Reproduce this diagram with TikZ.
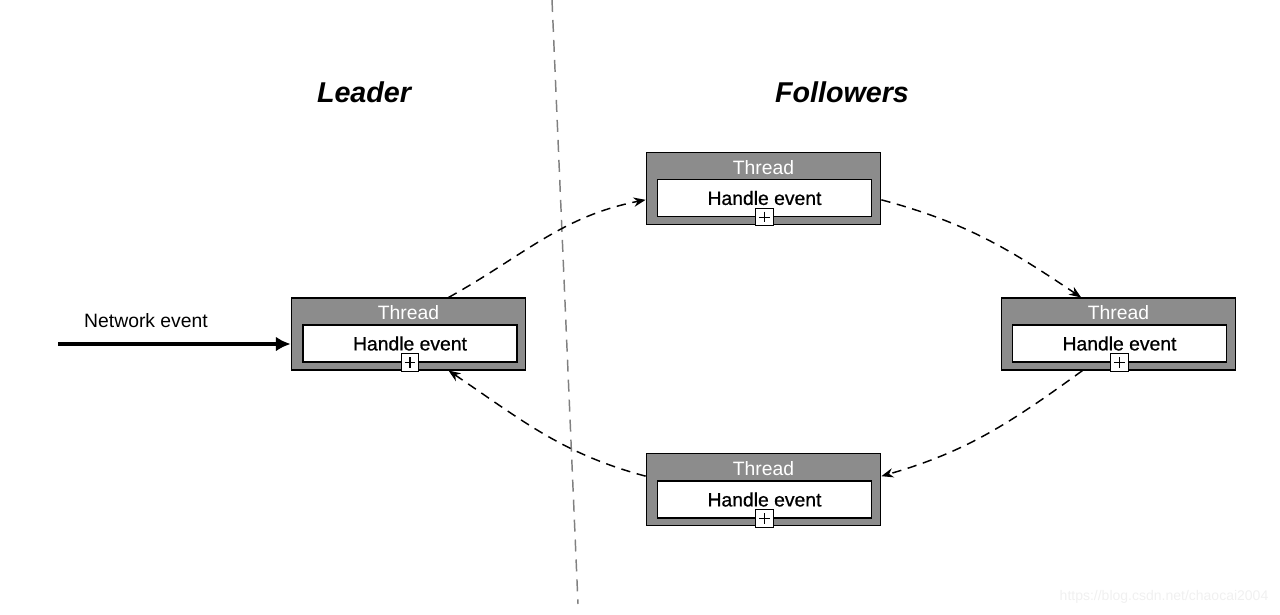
\documentclass[tikz,border=0pt]{standalone}
\usepackage{fontspec}
\setmainfont{Liberation Sans}
\usepackage{tikz}
\usetikzlibrary{shapes,arrows,arrows.meta,positioning}
\definecolor{threadgray}{RGB}{140,140,140}

\begin{document}
\begin{tikzpicture}[x=0.75pt,y=-0.75pt,
  threadbox/.style={draw=black,fill=threadgray,line width=0.8pt,minimum width=176pt,minimum height=54pt,inner sep=0pt},
  threadtitle/.style={text=white,font=\fontsize{14.5}{16}\selectfont,inner sep=0pt},
  handlebox/.style={draw=black,fill=white,line width=0.8pt,minimum width=160.5pt,minimum height=27.75pt,inner sep=0pt,
    font=\fontsize{14.5}{16}\selectfont\addfontfeature{FakeBold=0.8}},
  plusbox/.style={draw=black,fill=white,line width=0.9pt,minimum size=13pt,inner sep=0pt,
    path picture={\draw[line width=0.8pt] ([yshift=-2.5pt]path picture bounding box.north) -- ([yshift=2.5pt]path picture bounding box.south)
      ([xshift=2.5pt]path picture bounding box.west) -- ([xshift=-2.5pt]path picture bounding box.east);}},
  flow/.style={-{Stealth[length=9pt,width=7pt]},line width=1.1pt,dash pattern=on 7pt off 5pt}]
\useasboundingbox (0,0) rectangle (1280,614);

% divider and headings
\coordinate (divtop) at (552,0);
\coordinate (divbot) at (578,604);
\draw[gray,line width=1.1pt,dash pattern=on 9pt off 6pt] (divtop) -- (divbot);
\node[font=\fontsize{21.5}{24}\selectfont\bfseries\itshape] (leaderlbl) at (364,92) {Leader};
\node[font=\fontsize{21.5}{24}\selectfont\bfseries\itshape] (followlbl) at (842,92) {Followers};

% leader thread
\node[threadbox] (lead) at (408.5,334) {};
\node[threadtitle] (leadt) at (408.5,313) {Thread};
\node[handlebox] (leadh) at (410,343.5) {Handle event};
\node[plusbox] (leadp) at (leadh.south) {};

% top follower
\node[threadbox] (top) at (763.5,188.5) {};
\node[threadtitle] (topt) at (763.5,168) {Thread};
\node[handlebox] (toph) at (764.5,198) {Handle event};
\node[plusbox] (topp) at (toph.south) {};

% right follower
\node[threadbox] (right) at (1118.5,334) {};
\node[threadtitle] (rightt) at (1118.5,313) {Thread};
\node[handlebox] (righth) at (1119.5,343.5) {Handle event};
\node[plusbox] (rightp) at (righth.south) {};

% bottom follower
\node[threadbox] (bot) at (763.5,489.5) {};
\node[threadtitle] (bott) at (763.5,469) {Thread};
\node[handlebox] (both) at (764.5,499.5) {Handle event};
\node[plusbox] (botp) at (both.south) {};

% incoming event
\coordinate (netin) at (58,344);
\node[font=\fontsize{14.5}{16}\selectfont] (netlbl) at (146,321) {Network event};
\draw[-{Latex[length=11pt,width=11pt]},line width=2.3pt] (netin) -- (netin -| lead.west);

% hand over between threads
\draw[flow] ([xshift=30pt]lead.north) to[out=29,in=191] ([yshift=-8.5pt]top.west);
\draw[flow] ([yshift=-8.5pt]top.east) to[out=-15,in=146] ([xshift=-28pt]right.north);
\draw[flow] ([xshift=-27pt]right.south) to[out=-144,in=16] ([yshift=10pt]bot.east);
\draw[flow] ([yshift=10pt]bot.west) to[out=165,in=-34] ([xshift=30pt]lead.south);

\node[text=gray!12,font=\fontsize{10.5}{12}\selectfont] (mark) at (1164,597) {https://blog.csdn.net/chaocai2004};
\end{tikzpicture}
\end{document}
